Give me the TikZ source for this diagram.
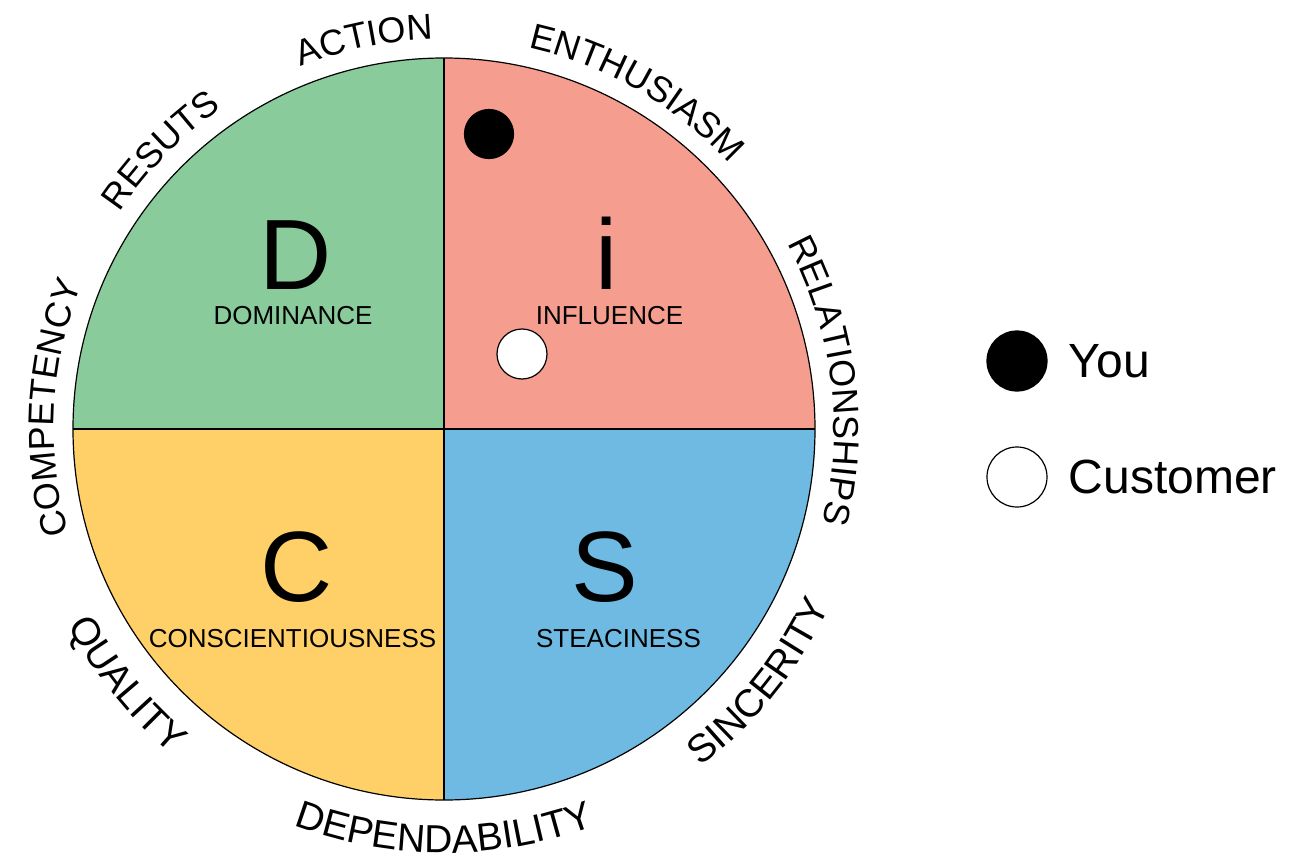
\documentclass[tikz,border=0pt]{standalone}
\usepackage{fontspec}
\setmainfont{Liberation Sans}
\usetikzlibrary{positioning,decorations.text}

\definecolor{discD}{RGB}{137,203,155}
\definecolor{discI}{RGB}{245,158,143}
\definecolor{discC}{RGB}{255,208,104}
\definecolor{discS}{RGB}{110,186,226}
\newcommand{\ringfont}{\fontsize{36}{36}\selectfont}
\newcommand{\ringfontlow}{\fontsize{39}{39}\selectfont}

\begin{document}
\begin{tikzpicture}[x=1pt,y=1pt]
\tikzstyle{edge}=[draw=black, line width=1.2pt]
\tikzstyle{letter}=[inner sep=0pt, anchor=base, font=\fontsize{100}{100}\selectfont]
\tikzstyle{trait}=[inner sep=2pt, anchor=base, font=\fontsize{26}{26}\selectfont]
\tikzstyle{dot}=[circle, draw=black, line width=1.2pt, inner sep=0pt, minimum size=49pt]
\tikzstyle{you}=[dot, fill=black]
\tikzstyle{cust}=[dot, fill=white]
\tikzstyle{key}=[inner sep=0pt, font=\fontsize{48}{48}\selectfont]
\tikzstyle{ring}=[decorate, decoration={text along path, text align=center}]

  \useasboundingbox (-444,-431) rectangle (859,429);

  % the four quarters
  \fill[discD] (0,0) -- (90:371) arc[start angle=90, end angle=180, radius=371] -- cycle;
  \fill[discI] (0,0) -- (0:371) arc[start angle=0, end angle=90, radius=371] -- cycle;
  \fill[discC] (0,0) -- (180:371) arc[start angle=180, end angle=270, radius=371] -- cycle;
  \fill[discS] (0,0) -- (270:371) arc[start angle=270, end angle=360, radius=371] -- cycle;
  \draw[edge] (0,371) -- (0,-371);
  \draw[edge] (-371,0) -- (371,0);
  \draw[edge] (0,0) circle[radius=371];

  % words round the rim
  \path[ring, decoration={text={|\ringfont|RESUTS}}]        (180.5:390) arc[start angle=180.5, end angle=90.5, radius=390];
  \path[ring, decoration={text={|\ringfont|ACTION}}]        (146.6:390) arc[start angle=146.6, end angle=56.6, radius=390];
  \path[ring, decoration={text={|\ringfont|ENTHUSIASM}}]    (105.2:390) arc[start angle=105.2, end angle=15.2, radius=390];
  \path[ring, decoration={text={|\ringfont|RELATIONSHIPS}}] (52.3:390) arc[start angle=52.3, end angle=-37.7, radius=390];
  \path[ring, decoration={text={|\ringfont|COMPETENCY}}]    (221.9:390) arc[start angle=221.9, end angle=131.9, radius=390];
  \path[ring, decoration={text={|\ringfontlow|QUALITY}}]       (173.8:424) arc[start angle=173.8, end angle=263.8, radius=424];
  \path[ring, decoration={text={|\ringfontlow|DEPENDABILITY}}] (225:424) arc[start angle=225, end angle=315, radius=424];
  \path[ring, decoration={text={|\ringfontlow|SINCERITY}}]     (276.3:424) arc[start angle=276.3, end angle=366.3, radius=424];

  \node[trait, fill=discD] (dom)  at (-151,105)  {DOMINANCE};
  \node[trait, fill=discI] (infl) at (165.5,105) {INFLUENCE};
  \node[trait, fill=discC] (cons) at (-151.5,-218) {CONSCIENTIOUSNESS};
  \node[trait, fill=discS] (stea) at (174.5,-218) {STEACINESS};

  \node[letter] (D) at (-148,140) {D};
  \node[letter] (i) at (163,140)  {i};
  \node[letter] (C) at (-147,-172) {C};
  \node[letter] (S) at (161,-172) {S};

  \node[you]  (youdot)  at (45,295) {};
  \node[cust, minimum size=50pt] (custdot) at (78,75) {};

  % key
  \node[you, minimum size=60pt]  (youkey)  at (573,68)  {};
  \node[cust, minimum size=60pt] (custkey) at (573,-48) {};
  \node[key] (youtxt)  [right=21pt of youkey]  {You};
  \node[key] (custtxt) [right=21pt of custkey] {Customer};

\end{tikzpicture}
\end{document}
